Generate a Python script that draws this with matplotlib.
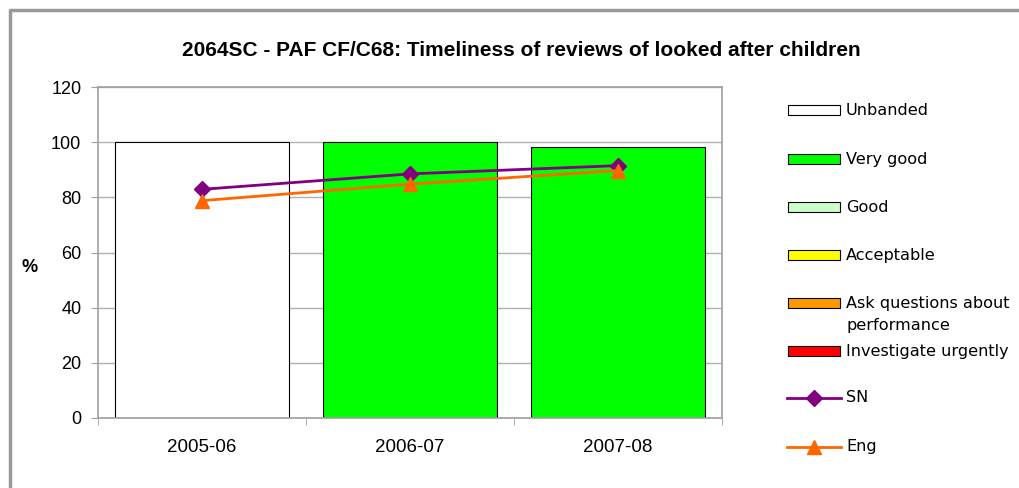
import numpy as np
import matplotlib.pyplot as plt
from matplotlib.patches import Rectangle
from matplotlib.lines import Line2D

# Data
years = ["2005-06", "2006-07", "2007-08"]
bar_values = [100, 100, 98.2]
bar_colors = ["#ffffff", "#00ff00", "#00ff00"]
sn = [82.9, 88.5, 91.5]
eng = [78.8, 84.8, 89.7]

legend_labels = ["Unbanded", "Very good", "Good", "Acceptable",
                 "Ask questions about\nperformance", "Investigate urgently"]
legend_colors = ["#ffffff", "#00ff00", "#ccffcc", "#ffff00", "#ff9900", "#ff0000"]

W, H = 1020, 488
fig = plt.figure(figsize=(W / 100, H / 100), dpi=100)


def px(x, y):
    return x / W, 1 - y / H


# outer chart border (top and left edges visible)
fig.add_artist(Line2D([10 / W, 10 / W, 1], [0, 1 - 10 / H, 1 - 10 / H],
                      transform=fig.transFigure, color="#999999", linewidth=2.5))

ax = fig.add_axes([98 / W, 70 / H, 624 / W, 331 / H])
x = np.arange(len(years))
ax.bar(x, bar_values, width=0.833, color=bar_colors, edgecolor="#000000",
       linewidth=0.8, zorder=2)
ax.plot(x, sn, color="#800080", marker="D", markersize=8, linewidth=2, zorder=3)
ax.plot(x, eng, color="#ff6600", marker="^", markersize=10, linewidth=2, zorder=3)

ax.set_xlim(-0.5, 2.5)
ax.set_ylim(0, 120)
ax.set_yticks(range(0, 121, 20))
ax.set_xticks(x)
ax.set_xticklabels(years)
ax.set_xticks(np.arange(-0.5, 2.6, 1), minor=True)
ax.yaxis.grid(True, color="#b0b0b0", linewidth=1, zorder=0)
ax.set_axisbelow(True)
for s in ax.spines.values():
    s.set_color("#a0a0a0")
    s.set_linewidth(1.2)
ax.tick_params(axis="y", labelsize=13, color="#a0a0a0", length=5, pad=7,
               labelfontfamily="Liberation Sans")
ax.tick_params(axis="x", which="major", labelsize=13.5, length=0, pad=15,
               labelfontfamily="Liberation Sans")
ax.tick_params(axis="x", which="minor", color="#a0a0a0", length=5)
fig.text(30 / W, 1 - 268 / H, "%", ha="center", va="center", fontsize=13,
         fontweight="bold", family="Liberation Sans")

fig.text(521 / W, 1 - 50 / H, "2064SC - PAF CF/C68: Timeliness of reviews of looked after children",
         ha="center", va="center", fontsize=15, fontweight="bold", family="Liberation Sans")

# legend drawn by hand to match spacing
rows = [110, 159, 207, 255, 303, 351]
for lab, col, yy in zip(legend_labels, legend_colors, rows):
    fig.add_artist(Rectangle(px(788, yy + 5), 52 / W, 10 / H, transform=fig.transFigure,
                             facecolor=col, edgecolor="#000000", linewidth=0.8))
    fig.text(846 / W, 1 - (yy - 7) / H, lab, ha="left", va="top", fontsize=11.6,
             family="DejaVu Sans", linespacing=1.55)

for lab, col, mk, ms, yy in [("SN", "#800080", "D", 8, 398), ("Eng", "#ff6600", "^", 10, 447)]:
    fig.add_artist(Line2D([787 / W, 841 / W], [1 - yy / H] * 2, transform=fig.transFigure,
                          color=col, linewidth=2))
    fig.add_artist(Line2D([814 / W], [1 - yy / H], transform=fig.transFigure,
                          color=col, marker=mk, markersize=ms))
    fig.text(846 / W, 1 - yy / H, lab, ha="left", va="center", fontsize=11.6, family="DejaVu Sans")

fig.savefig("out.png", dpi=100)
